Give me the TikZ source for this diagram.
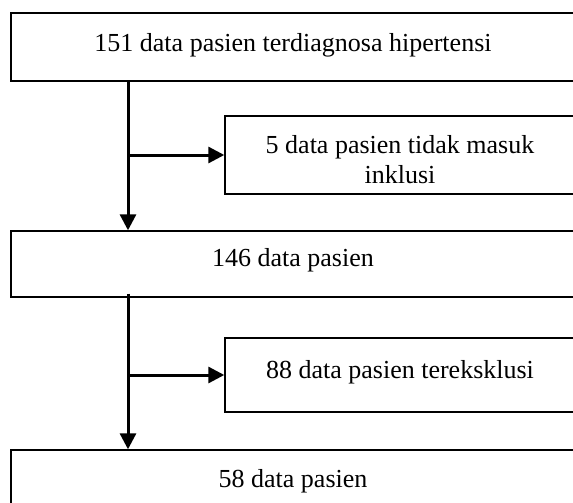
\documentclass[tikz,border=0pt]{standalone}
\usepackage{fontspec}
\setmainfont{Liberation Serif}
\usetikzlibrary{arrows.meta, positioning, fit}

\tikzset{
  frame/.style={draw, line width=0.7pt, inner sep=0pt},
  label text/.style={font=\fontsize{13}{15}\selectfont, align=center, inner sep=0pt, anchor=base},
  flowarrow/.style={line width=1.5pt, -{Triangle[length=8pt, width=8pt]}},
}

\begin{document}
\begin{tikzpicture}[x=0.5pt, y=-0.5pt]
  \useasboundingbox (0,0) rectangle (573,503);

  % boxes (the wide ones run off to the right)
  \node[frame, fit={(11,13) (640,81)}]    (f151) {};
  \node[frame, fit={(225,116) (640,194)}] (f5)   {};
  \node[frame, fit={(11,231) (640,297)}]  (f146) {};
  \node[frame, fit={(225,338) (640,412)}] (f88)  {};
  \node[frame, fit={(11,450) (640,560)}]  (f58)  {};

  % texts, placed by their (last) baselines
  \node[label text] (t151) at (293,51)  {151 data pasien terdiagnosa hipertensi};
  \node[label text] (t5)   at (400,183) {5 data pasien tidak masuk\\inklusi};
  \node[label text] (t146) at (293,266) {146 data pasien};
  \node[label text] (t88)  at (400,378) {88 data pasien tereksklusi};
  \node[label text] (t58)  at (293,487) {58 data pasien};

  \coordinate (spine) at (128,0);

  % main flow
  \draw[flowarrow] (f151.south -| spine) -- (f146.north -| spine);
  \draw[flowarrow] ([yshift=2pt]f146.south -| spine) -- (f58.north -| spine);

  % exclusions
  \draw[flowarrow] (f5.west -| spine) -- (f5.west);
  \draw[flowarrow] (f88.west -| spine) -- (f88.west);
\end{tikzpicture}
\end{document}
